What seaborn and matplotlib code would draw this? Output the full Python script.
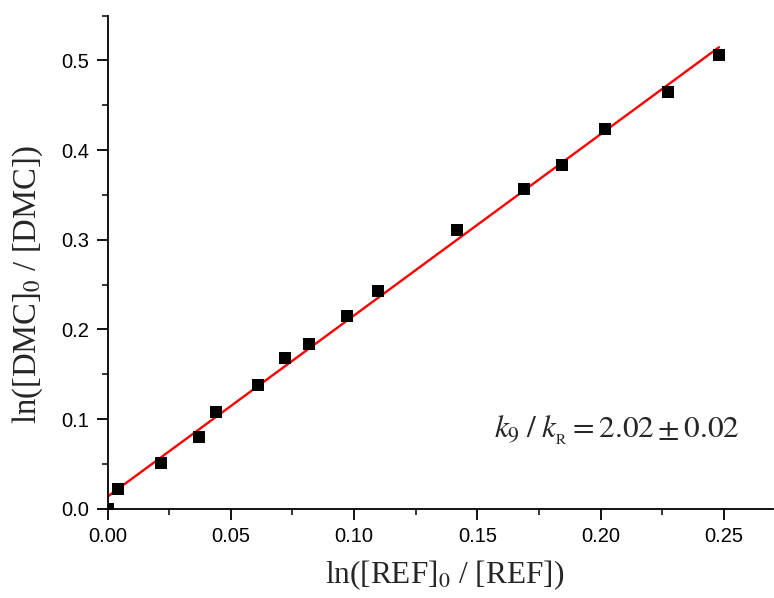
import numpy as np
import pandas as pd
import matplotlib
matplotlib.use("Agg")
import matplotlib.pyplot as plt
import seaborn as sns
from matplotlib.ticker import MultipleLocator

# data
ln_ref = [0.0, 0.0044, 0.0217, 0.0371, 0.0438, 0.0612, 0.0721, 0.0818,
          0.0972, 0.1097, 0.1416, 0.1688, 0.1845, 0.2017, 0.2273, 0.2480]
ln_dmc = [0.0, 0.022, 0.0517, 0.0807, 0.108, 0.138, 0.1685, 0.184,
          0.2146, 0.2425, 0.311, 0.357, 0.383, 0.4238, 0.465, 0.5056]
x_ticks = [0.00, 0.05, 0.10, 0.15, 0.20, 0.25]
y_ticks = [0.0, 0.1, 0.2, 0.3, 0.4, 0.5]
annotation = r"$k_9\;/\;k_{{}_\mathrm{R}} = 2.02 \pm 0.02$"

df = pd.DataFrame({"x": ln_ref, "y": ln_dmc})

sns.set_style("ticks")
plt.rcParams["font.family"] = ["Liberation Sans", "DejaVu Sans"]
plt.rcParams["mathtext.fontset"] = "stix"

fig = plt.figure(figsize=(7.74, 5.98), dpi=100)
ax = fig.add_axes([0.139, 0.149, 0.860, 0.825])

sns.regplot(data=df, x="x", y="y", ax=ax, ci=None, truncate=True,
            marker="s",
            scatter_kws={"color": "black", "s": 66, "linewidths": 0,
                         "alpha": 1, "zorder": 3},
            line_kws={"color": "#ff0000", "lw": 1.7, "zorder": 2})

ax.set_xlim(0, 0.27)
ax.set_ylim(0, 0.55)
ax.set_xticks(x_ticks)
ax.set_yticks(y_ticks)
ax.set_xticklabels([f"{v:.2f}" for v in x_ticks])
ax.set_yticklabels([f"{v:.1f}" for v in y_ticks])
ax.xaxis.set_minor_locator(MultipleLocator(0.025))
ax.yaxis.set_minor_locator(MultipleLocator(0.05))
ax.tick_params(which="major", direction="out", length=8, width=1.3,
               labelsize=14.5, colors="black", pad=5)
ax.tick_params(which="minor", direction="out", length=4, width=1.3)
for s in ["top", "right"]:
    ax.spines[s].set_visible(False)
for s in ["left", "bottom"]:
    ax.spines[s].set_linewidth(1.3)
    ax.spines[s].set_color("black")

ax.set_xlabel(r"ln([REF]$_0$ / [REF])", fontsize=22.5, family="Liberation Serif",
              va="center")
ax.set_ylabel(r"ln([DMC]$_0$ / [DMC])", fontsize=23.5, family="Liberation Serif",
              va="center")
ax.xaxis.set_label_coords(0.507, -0.135)
ax.yaxis.set_label_coords(-0.12, 0.454)

ax.text(0.2565, 0.079, annotation, fontsize=22.5, ha="right", va="baseline")

fig.savefig("out.png", dpi=100)
